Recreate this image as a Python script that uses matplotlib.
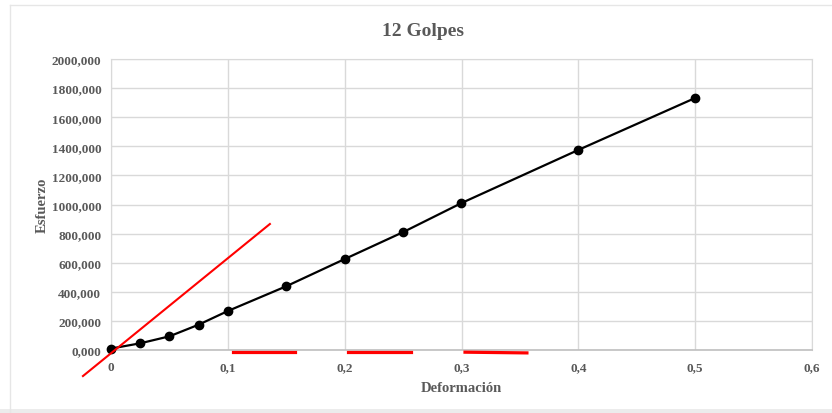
from matplotlib import pyplot as plt
from matplotlib.lines import Line2D
from matplotlib.patches import Rectangle
import numpy as np

# datos
deformacion = [0, 0.025, 0.05, 0.075, 0.1, 0.15, 0.2, 0.25, 0.3, 0.4, 0.5]
esfuerzo = [10, 46, 94, 174, 268, 438, 625, 810, 1010, 1375, 1732]

# recta tangente (roja)
tang_x = [-0.024, 0.136]
tang_y = [-179, 866]

# trazos rojos bajo el eje
trazo_x = [(0.104, 0.1575), (0.203, 0.2566), (0.303, 0.356)]
trazo_y = [(-16, -16), (-14, -14), (-15, -20)]

x_ticks = np.arange(0, 0.61, 0.1)
y_ticks = np.arange(0, 2001, 200)

gris = '#595959'
fuente = 'Liberation Serif'

fig = plt.figure(figsize=(8.32, 4.14), dpi=100)
ax = fig.add_axes([111/832, 1-351/414, (812-111)/832, (351-60)/414])

ax.plot(deformacion, esfuerzo, color='black', linewidth=1.6, marker='o',
        markersize=6, zorder=3, clip_on=False)
ax.plot(tang_x, tang_y, color='#ff0000', linewidth=1.5, clip_on=False, zorder=4)
for xs, ys in zip(trazo_x, trazo_y):
    ax.plot(xs, ys, color='#ff0000', linewidth=2.3, clip_on=False, zorder=4)

ax.set(xlim=(0, 0.6), ylim=(0, 2000))
ax.set_xticks(x_ticks)
ax.set_yticks(y_ticks)
ax.set_xticklabels(['0'] + [('%.1f' % v).replace('.', ',') for v in x_ticks[1:]])
ax.set_yticklabels(['%d,000' % v for v in y_ticks])

for lbl in ax.get_xticklabels() + ax.get_yticklabels():
    lbl.set_fontfamily(fuente)
    lbl.set_fontweight('bold')
    lbl.set_fontsize(9.5)
    lbl.set_color(gris)

ax.tick_params(length=0)
ax.tick_params(axis='y', pad=7)
ax.tick_params(axis='x', pad=8)

ax.grid(color='#d9d9d9', linewidth=1)
ax.set_axisbelow(True)
for s in ['top', 'right', 'left']:
    ax.spines[s].set_color('#d9d9d9')
ax.spines['bottom'].set_color('#bfbfbf')
ax.spines['bottom'].set_linewidth(1.2)

ax.set_xlabel('Deformación', fontfamily=fuente, fontweight='bold', fontsize=10.5,
              color=gris, labelpad=6)
ax.set_ylabel('Esfuerzo', fontfamily=fuente, fontweight='bold', fontsize=10.5,
              color=gris, labelpad=2)

fig.text(423/832, 1-32/414, '12 Golpes', ha='center', va='center',
         fontfamily=fuente, fontweight='bold', fontsize=14, color=gris)

# marco del area del grafico y franja inferior
fig.add_artist(Line2D([10/832, 10/832], [0, 1-6/414], color='#e6e6e6', linewidth=1))
fig.add_artist(Line2D([10/832, 1], [1-6/414, 1-6/414], color='#e6e6e6', linewidth=1))
fig.add_artist(Rectangle((0, 0), 1, 4/414, transform=fig.transFigure,
                         color='#ececec', linewidth=0))

fig.savefig('out.png', dpi=100)
